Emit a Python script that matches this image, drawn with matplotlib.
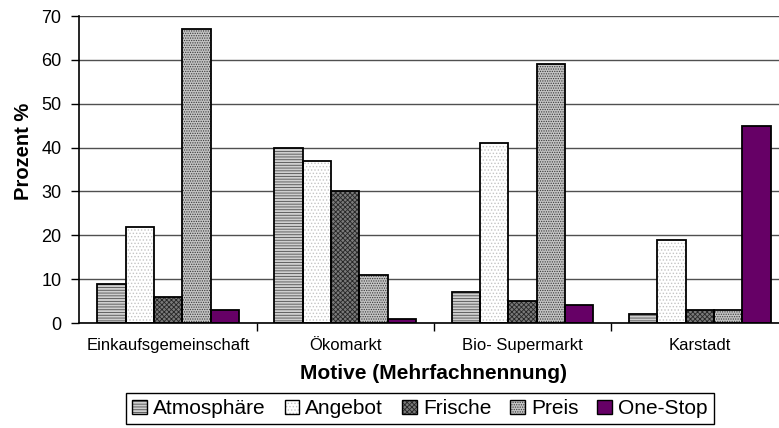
import matplotlib
matplotlib.use("Agg")
import matplotlib.pyplot as plt
from matplotlib.patches import Patch
from matplotlib.legend_handler import HandlerTuple
import numpy as np

plt.rcParams['font.family'] = ['Liberation Sans', 'DejaVu Sans']
plt.rcParams['hatch.linewidth'] = 0.6

# data
categories = ['Einkaufsgemeinschaft', 'Ökomarkt', 'Bio- Supermarkt', 'Karstadt']
series = ['Atmosphäre', 'Angebot', 'Frische', 'Preis', 'One-Stop']
atmosphaere = [9, 40, 7, 2]
angebot = [22, 37, 41, 19]
frische = [6, 30, 5, 3]
preis = [67, 11, 59, 3]
one_stop = [3, 1, 4, 45]
values = [atmosphaere, angebot, frische, preis, one_stop]

# fill colour, hatch pattern, hatch colour per series
styles = [
    ('#d0d0d0', '------', '#505050'),
    ('#ffffff', '.....', '#c4c4c4'),
    ('#7a7a7a', 'xxxxxxx', '#262626'),
    ('#c4c4c4', '.......', '#3a3a3a'),
    ('#660066', '', '#660066'),
]

fig = plt.figure(figsize=(7.79, 4.28), dpi=100)
ax = fig.add_axes([0.102, 0.2453, 0.910, 0.7173])

x = np.arange(len(categories))
w = 0.16
handles = []
for i, (vals, (fc, hatch, hc)) in enumerate(zip(values, styles)):
    pos = x + (i - 2) * w
    ax.bar(pos, vals, w, color=fc, hatch=hatch, edgecolor=hc, linewidth=0, zorder=2)
    ax.bar(pos, vals, w, fill=False, edgecolor='black', linewidth=1.3, zorder=3)
    handles.append((Patch(facecolor=fc, hatch=hatch, edgecolor=hc, linewidth=0),
                    Patch(fill=False, edgecolor='black', linewidth=1.0)))

ax.set_xlim(-0.5, 3.5)
ax.set_ylim(0, 70)
ax.set_yticks(range(0, 71, 10))
ax.yaxis.grid(True, color='#505050', linewidth=1)
ax.set_axisbelow(True)

ax.set_xticks([0.5, 1.5, 2.5])
ax.set_xticklabels([])
ax.set_xticks(x, minor=True)
ax.set_xticklabels(categories, minor=True, fontsize=12)
ax.tick_params(axis='x', which='major', length=6, width=1, direction='out')
ax.tick_params(axis='x', which='minor', length=0, pad=11)
ax.tick_params(axis='y', length=6, width=1, labelsize=13, pad=7)

for s in ['top', 'right']:
    ax.spines[s].set_visible(False)
for s in ['left', 'bottom']:
    ax.spines[s].set_linewidth(1.2)
    ax.spines[s].set_color('black')

ax.set_ylabel('Prozent %', fontsize=14.5, fontweight='bold')
ax.yaxis.set_label_coords(-0.066, 0.56)
ax.set_xlabel('Motive (Mehrfachnennung)', fontsize=15, fontweight='bold', labelpad=8)

leg = fig.legend(handles, series, handler_map={tuple: HandlerTuple(ndivide=1)},
                 loc='center', bbox_to_anchor=(0.539, 0.045), ncol=5, fontsize=15,
                 frameon=True, fancybox=False, edgecolor='black', framealpha=1,
                 handlelength=0.7, handleheight=0.7, handletextpad=0.3,
                 columnspacing=0.9, borderpad=0.3, borderaxespad=0)
leg.get_frame().set_linewidth(1.0)

fig.savefig('out.png', dpi=100)
